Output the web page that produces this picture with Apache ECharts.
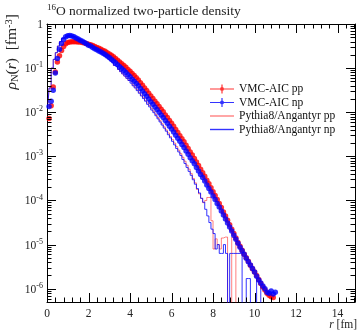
<!DOCTYPE html>
<html><head><meta charset="utf-8">
<script src="https://cdn.jsdelivr.net/npm/echarts@6/dist/echarts.min.js"></script>
<style>html,body{margin:0;padding:0;background:#fff}#c{width:360px;height:331px}</style>
</head><body><div id="c"></div>
<script>
// ---------------- data ----------------
const rVMC = [0.1,0.2,0.3,0.4,0.5,0.6,0.7,0.8,0.9,1.0,
1.1,1.2,1.3,1.4,1.5,1.6,1.7,1.8,1.9,2.0,
2.1,2.2,2.3,2.4,2.5,2.6,2.7,2.8,2.9,3.0,
3.1,3.2,3.3,3.4,3.5,3.6,3.7,3.8,3.9,4.0,
4.1,4.2,4.3,4.4,4.5,4.6,4.7,4.8,4.9,5.0,
5.1,5.2,5.3,5.4,5.5,5.6,5.7,5.8,5.9,6.0,
6.1,6.2,6.3,6.4,6.5,6.6,6.7,6.8,6.9,7.0,
7.1,7.2,7.3,7.4,7.5,7.6,7.7,7.8,7.9,8.0,
8.1,8.2,8.3,8.4,8.5,8.6,8.7,8.8,8.9,9.0,
9.1,9.2,9.3,9.4,9.5,9.6,9.7,9.8,9.9,10.0,
10.1,10.2,10.3,10.4,10.5,10.6,10.7,10.8,10.9,11.0];

const vmcPP = [7.24e-3,1.41e-2,3.72e-2,8.13e-2,0.138,0.191,0.251,0.309,0.355,0.380,
0.389,0.398,0.398,0.398,0.389,0.389,0.380,0.372,0.363,0.347,
0.339,0.324,0.309,0.295,0.282,0.269,0.251,0.240,0.224,0.209,
0.195,0.182,0.166,0.151,0.138,0.126,0.115,0.105,9.33e-2,8.51e-2,
7.59e-2,6.76e-2,6.03e-2,5.37e-2,4.68e-2,4.07e-2,3.55e-2,3.09e-2,2.69e-2,2.34e-2,
2.04e-2,1.78e-2,1.55e-2,1.35e-2,1.17e-2,1.02e-2,8.71e-3,7.59e-3,6.46e-3,5.62e-3,
4.79e-3,4.07e-3,3.47e-3,2.95e-3,2.51e-3,2.14e-3,1.78e-3,1.51e-3,1.26e-3,1.07e-3,
8.91e-4,7.41e-4,6.17e-4,5.13e-4,4.27e-4,3.55e-4,2.88e-4,2.40e-4,1.95e-4,1.58e-4,
1.29e-4,1.05e-4,8.51e-5,6.92e-5,5.50e-5,4.47e-5,3.55e-5,2.82e-5,2.24e-5,1.78e-5,
1.41e-5,1.12e-5,9.12e-6,7.41e-6,6.03e-6,5.01e-6,4.17e-6,3.39e-6,2.82e-6,2.40e-6,
2.00e-6,1.62e-6,1.32e-6,1.10e-6,9.3e-7,7.9e-7,7.1e-7,6.6e-7,6.3e-7,null];

const vmcNP = [1.35e-2,1.78e-2,3.16e-2,7.76e-2,0.166,0.269,0.363,0.447,0.513,0.543,
0.550,0.537,0.513,0.484,0.457,0.427,0.407,0.380,0.355,0.331,
0.316,0.295,0.275,0.260,0.245,0.232,0.216,0.204,0.188,0.174,
0.158,0.145,0.132,0.120,0.108,9.77e-2,8.81e-2,7.94e-2,7.08e-2,6.38e-2,
5.62e-2,5.01e-2,4.47e-2,3.98e-2,3.47e-2,3.02e-2,2.63e-2,2.29e-2,2.00e-2,1.74e-2,
1.51e-2,1.32e-2,1.15e-2,1.00e-2,8.71e-3,7.59e-3,6.46e-3,5.62e-3,4.79e-3,4.17e-3,
3.55e-3,3.02e-3,2.57e-3,2.19e-3,1.86e-3,1.58e-3,1.32e-3,1.12e-3,9.33e-4,7.94e-4,
6.76e-4,5.62e-4,4.68e-4,3.89e-4,3.31e-4,2.75e-4,2.24e-4,1.86e-4,1.55e-4,1.26e-4,
1.05e-4,8.51e-5,7.08e-5,5.75e-5,4.68e-5,3.80e-5,3.09e-5,2.51e-5,2.04e-5,1.62e-5,
1.32e-5,1.07e-5,8.71e-6,7.24e-6,6.03e-6,4.90e-6,4.07e-6,3.47e-6,2.88e-6,2.40e-6,
1.91e-6,1.58e-6,1.35e-6,1.15e-6,1.0e-6,8.3e-7,7.9e-7,8.9e-7,7.6e-7,8.3e-7];

const rHist = [0.05,0.15,0.25,0.35,0.45,0.55,0.65,0.75,0.85,0.95,
1.05,1.15,1.25,1.35,1.45,1.55,1.65,1.75,1.85,1.95,
2.05,2.15,2.25,2.35,2.45,2.55,2.65,2.75,2.85,2.95,
3.05,3.15,3.25,3.35,3.45,3.55,3.65,3.75,3.85,3.95,
4.05,4.15,4.25,4.35,4.45,4.55,4.65,4.75,4.85,4.95,
5.05,5.15,5.25,5.35,5.45,5.55,5.65,5.75,5.85,5.95,
6.05,6.15,6.25,6.35,6.45,6.55,6.65,6.75,6.85,6.95,
7.05,7.15,7.25,7.35,7.45,7.55,7.65,7.75,7.85,7.95,
8.05,8.15,8.25,8.35,8.45,8.55,8.65,8.75,8.85,8.95,
9.05,9.15,9.25,9.35,9.45,9.55,9.65,9.75,9.85,9.95,
10.05,10.15,10.25,10.35];

const pythiaPP = [1.58e-2,3.55e-2,0.100,0.158,0.224,0.316,0.398,0.468,0.513,0.537,
0.550,0.537,0.519,0.495,0.468,0.437,0.407,0.380,0.355,0.331,
0.309,0.288,0.269,0.251,0.234,0.219,0.200,0.186,0.170,0.155,
0.141,0.129,0.115,0.105,9.33e-2,8.32e-2,7.41e-2,6.61e-2,5.89e-2,5.25e-2,
4.79e-2,4.17e-2,3.72e-2,3.24e-2,2.82e-2,2.45e-2,2.14e-2,1.86e-2,1.62e-2,1.41e-2,
1.20e-2,1.05e-2,8.91e-3,7.59e-3,6.46e-3,5.50e-3,4.68e-3,3.98e-3,3.39e-3,2.82e-3,
2.40e-3,2.00e-3,1.66e-3,1.38e-3,1.15e-3,9.55e-4,7.76e-4,6.31e-4,5.13e-4,4.07e-4,
3.16e-4,2.51e-4,1.78e-4,1.41e-4,1.12e-4,8.91e-5,1.0e-4,1.17e-4,1.17e-4,3.47e-5,
7.94e-6,1.35e-5,1.0e-5,7.94e-6,1.41e-5,1.48e-5,1.48e-5,0,0,1.48e-5,
1.48e-5,0,0,0,0,0,0,0,0,0,
0,0,0,0];

const pythiaNP = [1.58e-2,3.55e-2,0.100,0.158,0.224,0.316,0.398,0.468,0.513,0.537,
0.550,0.537,0.519,0.495,0.468,0.437,0.407,0.380,0.355,0.331,
0.309,0.288,0.269,0.251,0.234,0.219,0.200,0.186,0.170,0.155,
0.141,0.129,0.115,0.105,9.33e-2,8.32e-2,7.41e-2,6.61e-2,5.89e-2,5.25e-2,
4.57e-2,3.98e-2,3.55e-2,3.09e-2,2.69e-2,2.34e-2,2.04e-2,1.78e-2,1.51e-2,1.32e-2,
1.12e-2,9.77e-3,8.32e-3,7.08e-3,6.03e-3,5.13e-3,4.37e-3,3.72e-3,3.09e-3,2.63e-3,
2.19e-3,1.82e-3,1.51e-3,1.26e-3,1.05e-3,8.51e-4,6.92e-4,5.62e-4,4.57e-4,3.72e-4,
2.95e-4,2.34e-4,1.86e-4,1.48e-4,1.12e-4,9.12e-5,6.31e-5,4.47e-5,3.16e-5,2.24e-5,
1.78e-5,7.94e-6,1.0e-5,6.31e-6,6.31e-6,1.0e-5,6.31e-6,0,6.31e-6,6.31e-6,
6.31e-6,6.31e-6,6.31e-6,6.31e-6,0,0,1.7e-6,1.7e-6,0,0,
0,1.7e-6,1.7e-6,0];

const xMajorTicks = [0,2,4,6,8,10,12,14];
const yMajorTicks = [1e-6,1e-5,1e-4,1e-3,1e-2,1e-1,1];
const seriesNames = ['VMC-AIC pp','VMC-AIC np','Pythia8/Angantyr pp','Pythia8/Angantyr np'];

// ---------------- chart ----------------
const F = 'Liberation Serif';
const XMAX = 14.84, YMIN = 5e-7, YMAX = 1;
const EMPTY = 1e-9; // empty histogram bins drawn down to the frame, as ROOT does on a log axis

const xMinorTicks = [];
for (let i = 0; i < xMajorTicks.length; i++) for (let j = 1; j < 5; j++) {
  const v = xMajorTicks[i] + 0.4 * j; if (v < XMAX) xMinorTicks.push(v);
}
const yMinorTicks = [];
for (let e = -7; e < 0; e++) for (let m = 2; m <= 9; m++) {
  const v = m * Math.pow(10, e); if (v > YMIN && v < YMAX) yMinorTicks.push(v);
}
const tickData = [];
xMajorTicks.forEach(v => tickData.push([v, 0.1, 0]));
xMinorTicks.forEach(v => tickData.push([v, 0.1, 1]));
yMajorTicks.forEach(v => tickData.push([1, v, 2]));
yMinorTicks.forEach(v => tickData.push([1, v, 3]));

const pairs = (xs, ys) => xs.map((x, i) => [x, ys[i]]).filter(p => p[1] !== null);
const histPairs = (xs, ys) => xs.map((x, i) => [x, ys[i] > 0 ? ys[i] : EMPTY]);

const chart = echarts.init(document.getElementById('c'), null, {renderer: 'canvas'});
const axisLineStyle = {color: '#000', width: 1};
const vmcIcon = 'path://M0,4.4H24V5.6H0Z M11.4,0.5H12.6V9.5H11.4Z M10,5A2,2 0 1,1 14,5A2,2 0 1,1 10,5Z';
chart.setOption({
  animation: false,
  grid: {left: 47, right: 5, top: 24, bottom: 29, containLabel: false},
  xAxis: [
    {type: 'value', min: 0, max: XMAX, interval: 2, position: 'bottom',
     axisLine: {show: true, onZero: false, lineStyle: axisLineStyle},
     axisTick: {show: false}, splitLine: {show: false},
     axisLabel: {margin: 6, fontFamily: F, fontSize: 11.5, color: '#222',
       formatter: v => (xMajorTicks.indexOf(v) >= 0 ? String(v) : '')}},
    {type: 'value', min: 0, max: XMAX, interval: 2, position: 'top',
     axisLine: {show: true, onZero: false, lineStyle: axisLineStyle},
     axisTick: {show: false}, splitLine: {show: false}, axisLabel: {show: false}}
  ],
  yAxis: [
    {type: 'log', logBase: 10, min: YMIN, max: YMAX, position: 'left',
     axisLine: {show: true, onZero: false, lineStyle: axisLineStyle},
     axisTick: {show: false}, splitLine: {show: false},
     axisLabel: {margin: 4, fontFamily: F, fontSize: 11.5, color: '#222',
       formatter: v => {
         const e = Math.round(Math.log10(v));
         if (Math.abs(Math.log10(v) - e) > 0.01) return '';
         if (e === 0) return '{b|1}';
         return '{b|10}{s|-' + (-e) + '}';
       },
       rich: {b: {fontFamily: F, fontSize: 11.5, color: '#222', verticalAlign: 'bottom', lineHeight: 14},
              s: {fontFamily: F, fontSize: 8, color: '#222', verticalAlign: 'top', lineHeight: 14}}}},
    {type: 'log', logBase: 10, min: YMIN, max: YMAX, position: 'right',
     axisLine: {show: true, onZero: false, lineStyle: axisLineStyle},
     axisTick: {show: false}, splitLine: {show: false}, axisLabel: {show: false}}
  ],
  legend: {
    left: 205, top: 78, orient: 'vertical', itemGap: 1.5, itemWidth: 24, itemHeight: 10,
    textStyle: {fontFamily: F, fontSize: 11.5, color: '#111', lineHeight: 12},
    data: [
      {name: seriesNames[0], icon: vmcIcon},
      {name: seriesNames[1], icon: vmcIcon},
      {name: seriesNames[2], icon: 'path://M0,4.3H24V5.7H0Z', itemStyle: {color: '#ff8080'}},
      {name: seriesNames[3], icon: 'path://M0,4.3H24V5.7H0Z', itemStyle: {color: '#3333ff'}}
    ]
  },
  graphic: [
    {type: 'text', left: 47, top: 3, style: {text: '{s|16}{t|O normalized two-particle density}',
      rich: {s: {fontFamily: F, fontSize: 9, fill: '#222', verticalAlign: 'top', lineHeight: 15},
             t: {fontFamily: F, fontSize: 13.5, fill: '#222', verticalAlign: 'bottom', lineHeight: 15}}}},
    {type: 'text', x: 12, y: 14, rotation: Math.PI / 2,
      style: {text: '{i|ρ}{sub|N}{t|(}{i|r}{t|)  [fm}{sup|-3}{t|]}', align: 'right', verticalAlign: 'middle',
      rich: {i: {fontFamily: F, fontStyle: 'italic', fontSize: 15.5, fill: '#222', verticalAlign: 'middle', lineHeight: 17},
             sub: {fontFamily: F, fontSize: 10.5, fill: '#222', verticalAlign: 'bottom', lineHeight: 17},
             sup: {fontFamily: F, fontSize: 10.5, fill: '#222', verticalAlign: 'top', lineHeight: 17},
             t: {fontFamily: F, fontSize: 15.5, fill: '#222', verticalAlign: 'middle', lineHeight: 17}}}},
    {type: 'text', right: 3, top: 319, style: {text: '{i|r}{t| [fm]}',
      rich: {i: {fontFamily: F, fontStyle: 'italic', fontSize: 11.5, fill: '#222'},
             t: {fontFamily: F, fontSize: 11.5, fill: '#222'}}}}
  ],
  series: [
    {name: seriesNames[2], type: 'line', step: 'middle', data: histPairs(rHist, pythiaPP),
     symbol: 'none', showSymbol: false, clip: true, z: 2,
     lineStyle: {color: 'rgba(255,0,0,0.5)', width: 1}, itemStyle: {color: '#ff8080'}},
    {name: seriesNames[3], type: 'line', step: 'middle', data: histPairs(rHist, pythiaNP),
     symbol: 'none', showSymbol: false, clip: true, z: 2,
     lineStyle: {color: 'rgba(0,0,255,0.8)', width: 1}, itemStyle: {color: '#3333ff'}},
    {name: seriesNames[0], type: 'scatter', data: pairs(rVMC, vmcPP), symbol: 'circle', symbolSize: 5.5,
     itemStyle: {color: '#ff0000'}, z: 3, clip: true},
    {name: seriesNames[1], type: 'scatter', data: pairs(rVMC, vmcNP), symbol: 'circle', symbolSize: 5.5,
     itemStyle: {color: '#0000ff'}, z: 4, clip: true},
    {type: 'custom', data: tickData, encode: {x: 0, y: 1}, clip: false, z: 10, silent: true,
     renderItem: function (params, api) {
       const cs = params.coordSys;
       const k = api.value(2);
       const bottom = cs.y + cs.height, right = cs.x + cs.width;
       let segs;
       if (k < 2) {
         const p = Math.round(api.coord([api.value(0), 0.1])[0]) + 0.5;
         const L = k === 0 ? 9 : 4.5;
         segs = [[p, bottom, p, bottom - L], [p, cs.y, p, cs.y + L]];
       } else {
         const p = Math.round(api.coord([1, api.value(1)])[1]) + 0.5;
         const L = k === 2 ? 9 : 4.5;
         segs = [[cs.x, p, cs.x + L, p], [right, p, right - L, p]];
       }
       return {type: 'group', children: segs.map(s => ({type: 'line',
         shape: {x1: s[0], y1: s[1], x2: s[2], y2: s[3]}, style: {stroke: '#000', lineWidth: 1}}))};
     }}
  ]
});
</script></body></html>
